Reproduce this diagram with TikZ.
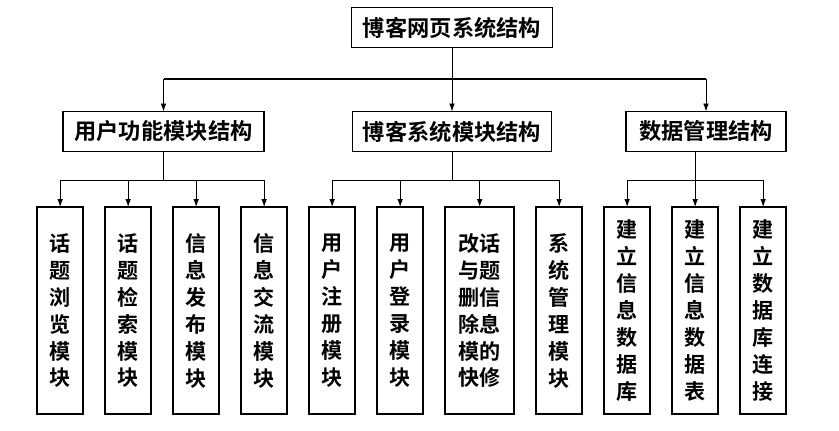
\documentclass[tikz,border=0pt]{standalone}
\usepackage{fontspec}
\newfontfamily\cjk{Noto Sans CJK SC}[BoldFont={* Bold}]
\usepackage{tikz}
\usetikzlibrary{arrows.meta, positioning, calc}

\begin{document}
\begin{tikzpicture}[
        x=0.3mm, y=-0.3mm,
        node distance=6.5mm,
        box/.style={
            rectangle, draw, line width=1.2pt, inner sep=0pt, outer sep=0pt,
            minimum width=#1, minimum height=12mm,
            align=center, font=\cjk\bfseries\fontsize{19}{23}\selectfont,
        },
        col/.style={
            rectangle, draw, line width=1.6pt, inner sep=0pt, outer sep=0pt,
            minimum width=#1, minimum height=62.2mm,
            align=center, font=\cjk\bfseries\fontsize{18}{23}\selectfont,
        },
        col/.default=13.9mm,
        arr/.style={-{Latex[length=2.4mm,width=1.7mm]}, line width=0.8pt},
    ]
        \useasboundingbox (0,0) rectangle (839,430);

        \node[box=60.3mm] (root) at (452,27.5) {博客网页系统结构};
        \node[box=60.3mm] (user) at (163.5,131.5) {用户功能模块结构};
        \node[box=59.7mm] (blog) at (452,131.5) {博客系统模块结构};
        \node[box=48mm] (data) at (706,131.5) {数据管理结构};

        \node[col, anchor=north west] (m1) at (37,207) {话\\题\\浏\\览\\模\\块};
        \node[col, right=of m1] (m2) {话\\题\\检\\索\\模\\块};
        \node[col, right=of m2] (m3) {信\\息\\发\\布\\模\\块};
        \node[col, right=of m3] (m4) {信\\息\\交\\流\\模\\块};
        \node[col, right=of m4] (m5) {用\\户\\注\\册\\模\\块};
        \node[col, right=of m5] (m6) {用\\户\\登\\录\\模\\块};
        \node[col=20.8mm, right=of m6] (m7) {改话\\与题\\删信\\除息\\模的\\快修};
        \node[col, right=of m7] (m8) {系\\统\\管\\理\\模\\块};
        \node[col, right=of m8] (m9) {建\\立\\信\\息\\数\\据\\库};
        \node[col, right=of m9] (m10) {建\\立\\信\\息\\数\\据\\表};
        \node[col, right=of m10] (m11) {建\\立\\数\\据\\库\\连\\接};

        \coordinate (topbus) at (0,79);
        \coordinate (lowbus) at (0,180);

        \draw[arr] (root) -- (blog);
        \draw[line width=1.6pt] (user |- topbus) -- (data |- topbus);
        \draw[arr] (user |- topbus) -- (user);
        \draw[arr] (data |- topbus) -- (data);

        \draw[line width=0.8pt] (user) -- (user |- lowbus);
        \draw[line width=0.8pt] (blog) -- (blog |- lowbus);
        \draw[line width=0.8pt] (data.south -| m10) -- (m10 |- lowbus);
        \draw[line width=0.8pt] (m1 |- lowbus) -- (m4 |- lowbus);
        \draw[line width=0.8pt] (m5 |- lowbus) -- (m8 |- lowbus);
        \draw[line width=0.8pt] (m9 |- lowbus) -- (m11 |- lowbus);
        \foreach \i in {1,...,11}
            \draw[arr] (m\i |- lowbus) -- (m\i);
    \end{tikzpicture}
\end{document}
